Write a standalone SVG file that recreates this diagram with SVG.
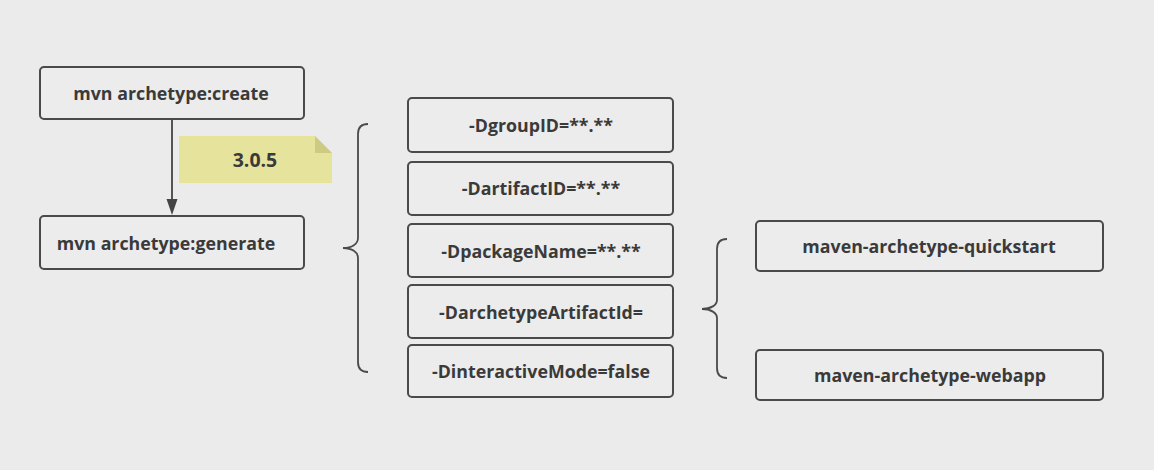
<svg xmlns="http://www.w3.org/2000/svg" width="1154" height="470" viewBox="0 0 1154 470">
<defs>
<style>
.box{fill:#ececec;stroke:#4a4a4a;stroke-width:2}
.t{font-family:"Open Sans","Noto Sans","DejaVu Sans",sans-serif;font-weight:bold;font-size:17.8px;fill:#3a3a3a;text-anchor:middle;dominant-baseline:central}
.brace{fill:none;stroke:#4a4a4a;stroke-width:1.8}
.conn{stroke:#444;stroke-width:1.8;fill:none}
</style>
</defs>
<rect width="1154" height="470" fill="#ebebeb"/>
<g id="connectors">
<line class="conn" x1="172" y1="120" x2="172" y2="200"/>
<path d="M166.5,199 L177.5,199 L172,215 Z" fill="#444"/>
<path class="brace" d="M368,124 C361,124 358,127 358,134 L358,238 C358,244 352,248 343,248 C352,248 358,252 358,258 L358,362 C358,369 361,372 368,372"/>
<path class="brace" d="M727,239 C720,239 717,242 717,249 L717,300 C717,305 711,309 702,309 C711,309 717,313 717,318 L717,368 C717,375 720,378 727,378"/>
</g>
<g id="note">
<path d="M179,136 L315,136 L332,153 L332,183 L179,183 Z" fill="#e6e49c"/>
<path d="M315,136 L332,153 L315,153 Z" fill="#cdca82"/>
<text class="t" x="255" y="159" style="font-size:19.5px">3.0.5</text>
</g>
<g id="n-create">
<rect class="box" x="40" y="67" width="264" height="52" rx="4"/>
<text class="t" x="171" y="93">mvn archetype:create</text>
</g>
<g id="n-generate">
<rect class="box" x="40" y="216" width="264" height="53" rx="4"/>
<text class="t" x="166" y="243">mvn archetype:generate</text>
</g>
<g id="p-group">
<rect class="box" x="408" y="98" width="265" height="54" rx="4"/>
<text class="t" x="541" y="125">-DgroupID=**.**</text>
</g>
<g id="p-artifact">
<rect class="box" x="408" y="162" width="265" height="53" rx="4"/>
<text class="t" x="541" y="188">-DartifactID=**.**</text>
</g>
<g id="p-package">
<rect class="box" x="408" y="224" width="265" height="53" rx="4"/>
<text class="t" x="541" y="251">-DpackageName=**.**</text>
</g>
<g id="p-archetype">
<rect class="box" x="408" y="285" width="265" height="53" rx="4"/>
<text class="t" x="541" y="312">-DarchetypeArtifactId=</text>
</g>
<g id="p-interactive">
<rect class="box" x="408" y="345" width="265" height="52" rx="4"/>
<text class="t" x="541" y="371">-DinteractiveMode=false</text>
</g>
<g id="a-quickstart">
<rect class="box" x="756" y="221" width="347" height="50" rx="4"/>
<text class="t" x="929" y="246">maven-archetype-quickstart</text>
</g>
<g id="a-webapp">
<rect class="box" x="756" y="350" width="347" height="50" rx="4"/>
<text class="t" x="930" y="375">maven-archetype-webapp</text>
</g>
</svg>
